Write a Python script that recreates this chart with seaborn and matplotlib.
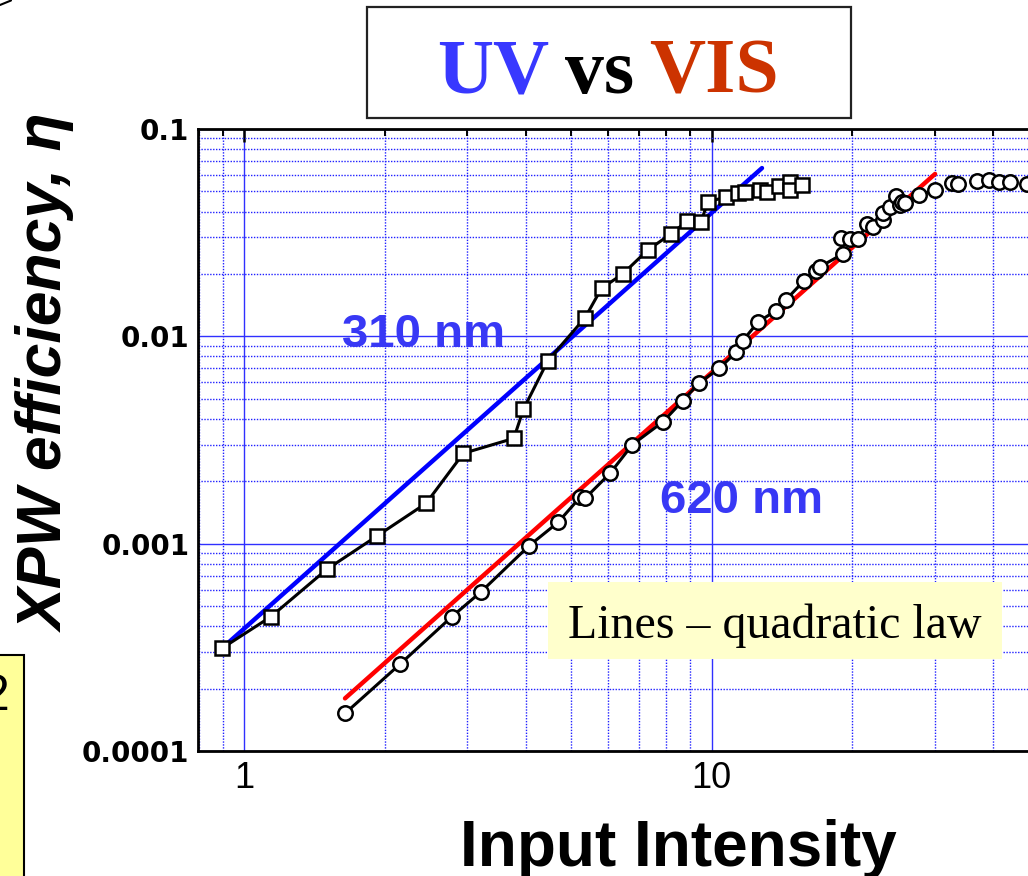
import numpy as np
import matplotlib
matplotlib.use("Agg")
import matplotlib.pyplot as plt
import seaborn as sns
from matplotlib.patches import Rectangle
from matplotlib.lines import Line2D
from matplotlib.ticker import FixedLocator, FixedFormatter, LogLocator, NullFormatter

# ---------------- data ----------------
uv_intensity = [0.896, 1.139, 1.501, 1.926, 2.448, 2.942, 3.771, 3.954, 4.459, 5.357,
                5.81, 6.449, 7.297, 8.174, 8.868, 9.486, 9.82, 10.73, 11.40, 11.81,
                12.69, 13.11, 13.93, 14.71, 14.71, 15.58]
uv_efficiency = [3.13e-4, 4.44e-4, 7.52e-4, 1.092e-3, 1.565e-3, 2.727e-3, 3.22e-3, 4.44e-3,
                 7.62e-3, 0.01229, 0.01704, 0.01998, 0.02608, 0.03114, 0.03598, 0.0357,
                 0.0447, 0.04683, 0.04895, 0.04983, 0.05078, 0.04983, 0.05338, 0.05538,
                 0.05078, 0.05369]

vis_intensity = [1.642, 2.154, 2.778, 3.21, 4.06, 4.69, 5.227, 5.357, 6.059, 6.768,
                 7.868, 8.67, 9.408, 10.38, 11.27, 11.65, 12.58, 13.72, 14.4, 15.76,
                 16.72, 17.05, 19.07, 18.88, 19.77, 20.59, 21.46, 22.17, 23.22, 23.29,
                 24.07, 24.80, 25.29, 25.50, 25.92, 27.81, 30.05]
vis_efficiency = [1.518e-4, 2.626e-4, 4.44e-4, 5.86e-4, 9.74e-4, 1.267e-3, 1.673e-3, 1.654e-3,
                  2.183e-3, 3.006e-3, 3.873e-3, 4.89e-3, 5.97e-3, 7.01e-3, 8.37e-3, 9.52e-3,
                  0.01176, 0.01329, 0.01497, 0.01855, 0.02072, 0.02166, 0.02495, 0.0297,
                  0.02937, 0.02937, 0.0348, 0.03378, 0.03639, 0.03948, 0.04192, 0.04751,
                  0.043, 0.04461, 0.04382, 0.04803, 0.05078]

vis_sat_intensity = [32.62, 33.70, 36.90, 39.26, 41.25, 43.48, 47.28, 51.5]
vis_sat_efficiency = [0.05508, 0.05429, 0.05612, 0.05675, 0.05568, 0.05568, 0.0541, 0.0532]

uv_fit_intensity = [0.896, 12.81]
uv_fit_efficiency = [3.13e-4, 0.0648]
vis_fit_intensity = [1.642, 30.05]
vis_fit_efficiency = [1.794e-4, 0.0607]

x_ticks = [1, 10]
x_tick_labels = ["1", "10"]
y_ticks = [1e-4, 1e-3, 1e-2, 1e-1]
y_tick_labels = ["0.0001", "0.001", "0.01", "0.1"]

# ---------------- figure ----------------
sns.set_style("white")
plt.rcParams['font.family'] = ['Liberation Sans', 'DejaVu Sans']
plt.rcParams['text.color'] = 'black'
plt.rcParams['axes.labelcolor'] = 'black'
plt.rcParams['xtick.color'] = 'black'
plt.rcParams['ytick.color'] = 'black'

W, H = 1028, 876
fig = plt.figure(figsize=(W / 100, H / 100), dpi=100)

L, R, T, B = 198.3, 1075.4, 129.0, 751.0
ax = fig.add_axes([L / W, 1 - B / H, (R - L) / W, (B - T) / H])
ax.set_xscale('log')
ax.set_yscale('log')

# fit lines (quadratic law)
sns.lineplot(x=uv_fit_intensity, y=uv_fit_efficiency, ax=ax, color='#0000FF',
             linewidth=3.2, solid_capstyle='round', zorder=2, estimator=None, sort=False)
sns.lineplot(x=vis_fit_intensity, y=vis_fit_efficiency, ax=ax, color='#FF0000',
             linewidth=3.2, solid_capstyle='round', zorder=2, estimator=None, sort=False)

# measured data
sns.lineplot(x=uv_intensity, y=uv_efficiency, ax=ax, color='black', linewidth=2.2,
             marker='s', markersize=9.8, markerfacecolor='white', markeredgecolor='black',
             markeredgewidth=1.8, zorder=3, estimator=None, sort=False)
sns.lineplot(x=vis_intensity, y=vis_efficiency, ax=ax, color='black', linewidth=2.2,
             marker='o', markersize=10.4, markerfacecolor='white', markeredgecolor='black',
             markeredgewidth=1.8, zorder=3, estimator=None, sort=False)
sns.scatterplot(x=vis_sat_intensity, y=vis_sat_efficiency, ax=ax, marker='o', s=10.4 ** 2,
                facecolor='white', edgecolor='black', linewidth=1.8, zorder=3)

ax.set_xlim(0.797, 60)
ax.set_ylim(1e-4, 0.1)

# ticks
ax.xaxis.set_major_locator(FixedLocator(x_ticks))
ax.xaxis.set_major_formatter(FixedFormatter(x_tick_labels))
ax.xaxis.set_minor_locator(LogLocator(base=10, subs=np.arange(2, 10), numticks=30))
ax.xaxis.set_minor_formatter(NullFormatter())
ax.yaxis.set_major_locator(FixedLocator(y_ticks))
ax.yaxis.set_major_formatter(FixedFormatter(y_tick_labels))
ax.yaxis.set_minor_locator(LogLocator(base=10, subs=np.arange(2, 10), numticks=30))
ax.yaxis.set_minor_formatter(NullFormatter())

ax.tick_params(which='both', direction='in', top=True, right=True, colors='black')
ax.tick_params(which='major', length=9.5, width=1.8)
ax.tick_params(which='minor', length=5, width=1.4)
ax.tick_params(axis='x', which='major', labelsize=26, pad=7)
ax.tick_params(axis='y', which='major', labelsize=20, pad=6.5)
for lab in ax.get_yticklabels():
    lab.set_family('DejaVu Sans')
    lab.set_fontweight('bold')
    lab.set_color('black')
for lab in ax.get_xticklabels():
    lab.set_family('Liberation Sans')
    lab.set_color('black')

for sp in ax.spines.values():
    sp.set_linewidth(2.0)
    sp.set_color('black')

# grid
ax.set_axisbelow(True)
ax.grid(which='major', color='#3030FF', linewidth=1.0, linestyle='-')
ax.grid(which='minor', color='#2020FF', linewidth=1.0, linestyle=(0, (1, 1.1)))

# axis labels
ax.set_xlabel("Input Intensity", fontsize=46, fontweight='bold', family='Liberation Sans',
              color='black')
ax.xaxis.label.set_va('baseline')
ax.xaxis.set_label_coords(0.547, -0.185)
ax.set_ylabel("XPW efficiency, \u03b7", fontsize=45, fontweight='bold', fontstyle='italic',
              family='Liberation Sans', color='black')
ax.yaxis.label.set_va('center')
ax.yaxis.label.set_ha('center')
ax.yaxis.set_label_coords(-0.172, 0.607)

# annotations inside the axes
ax.text(0.2562, 0.6688, "310 nm", transform=ax.transAxes, ha='center', va='center',
        fontsize=34, fontweight='bold', color='#3838F5', zorder=5)
ax.text(0.6188, 0.4019, "620 nm", transform=ax.transAxes, ha='center', va='center',
        fontsize=34, fontweight='bold', color='#3838F5', zorder=5)

ax.add_patch(Rectangle((0.3987, 0.1479), 0.5176, 0.1238, transform=ax.transAxes,
                       facecolor='#FFFFCC', edgecolor='none', zorder=1.2))
ax.text(0.657, 0.1817, "Lines \u2013 quadratic law", transform=ax.transAxes, ha='center',
        va='baseline', fontsize=34.5, family='Liberation Serif', color='black', zorder=5)

# title box "UV vs VIS"
fig.add_artist(Rectangle((367 / W, 1 - 118 / H), (851 - 367) / W, (118 - 7) / H,
                         transform=fig.transFigure, facecolor='white', edgecolor='#222222',
                         linewidth=1.6))
ty = 1 - 93 / H
fig.text(493.5 / W, ty, "UV", ha='center', va='baseline', fontsize=56, fontweight='bold',
         family='Liberation Serif', color='#3838FF')
fig.text(599.5 / W, ty, "vs", ha='center', va='baseline', fontsize=56, fontweight='bold',
         family='Liberation Serif', color='black')
fig.text(714 / W, ty, "VIS", ha='center', va='baseline', fontsize=56, fontweight='bold',
         family='Liberation Serif', color='#CC3300')

# clipped elements at the left edge
fig.add_artist(Rectangle((-0.01, -0.01), 0.01 + 24 / W, 0.01 + (H - 655) / H,
                         transform=fig.transFigure, facecolor='#FFFF99', edgecolor='black',
                         linewidth=1.5))
fig.text(9 / W, 1 - 710 / H, "2", ha='right', va='baseline', fontsize=36,
         family='Liberation Sans', color='black')
fig.add_artist(Line2D([0, 11 / W], [1 - 5 / H, 1 - 0.5 / H], transform=fig.transFigure,
                      color='black', linewidth=1.5))

fig.savefig("out.png", dpi=100)
